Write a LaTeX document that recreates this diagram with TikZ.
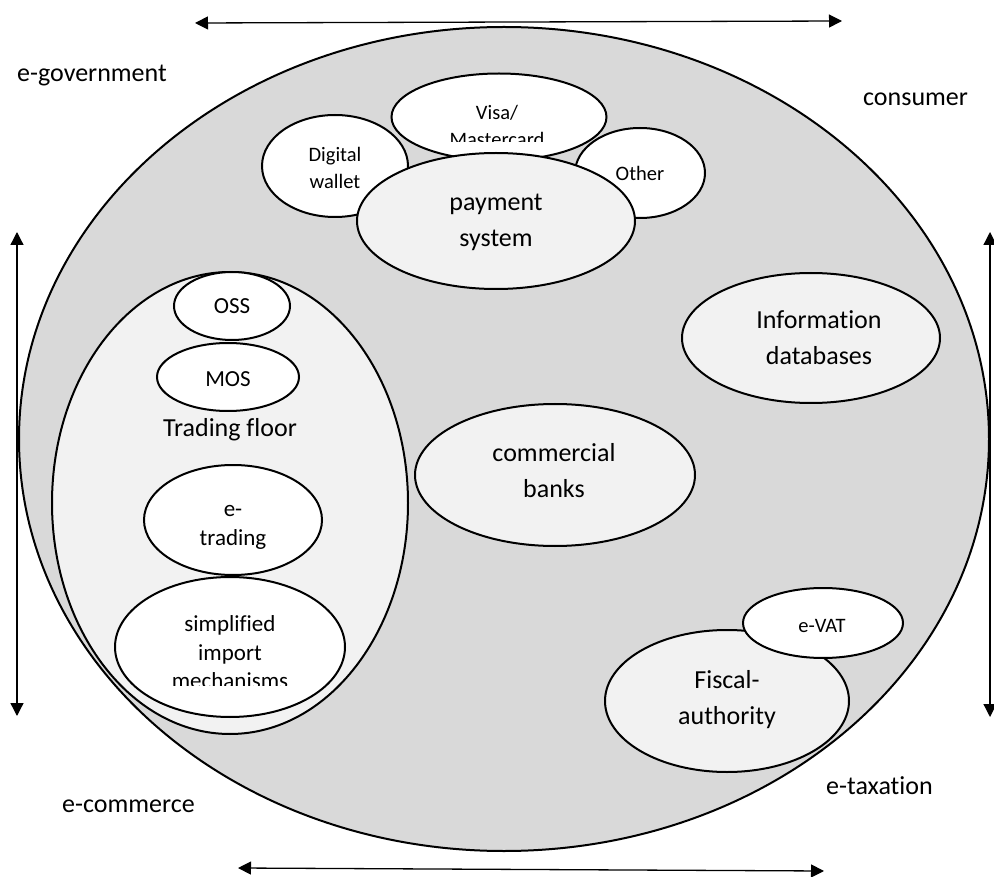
\documentclass[tikz,border=0pt]{standalone}
\usepackage{fontspec}
\setmainfont{Carlito}[Ligatures=NoCommon]
\usetikzlibrary{shapes.geometric,arrows.meta}
\definecolor{outerfill}{HTML}{D9D9D9}
\definecolor{innerfill}{HTML}{F2F2F2}
\begin{document}
\begin{tikzpicture}[x=1pt,y=-1pt,
  oval/.style={ellipse, draw=black, line width=2pt, inner sep=0pt},
  whiteoval/.style={oval, fill=white},
  greyoval/.style={oval, fill=innerfill},
  bigtext/.style={font=\fontsize{26}{36.5}\selectfont, align=center, inner sep=0pt},
  midtext/.style={font=\fontsize{23}{28.5}\selectfont, align=center, inner sep=0pt},
  smalltext/.style={font=\fontsize{20.5}{27}\selectfont, align=center, inner sep=0pt},
  twoway/.style={{Triangle[length=13pt,width=13pt]}-{Triangle[length=13pt,width=13pt]}, line width=1.3pt},
]
\useasboundingbox (0,0) rectangle (994,877);

% outer ellipse
\node[oval, fill=outerfill, minimum width=970pt, minimum height=824pt] (world) at (504,439) {};

% trading floor group
\node[greyoval, minimum width=356pt, minimum height=462pt] (floor) at (230,503) {};
\node[whiteoval, minimum width=116pt, minimum height=68pt] (oss) at (232,306) {};
\node[whiteoval, minimum width=142pt, minimum height=68pt] (mos) at (228,377) {};
\node[whiteoval, minimum width=178pt, minimum height=110pt] (etrading) at (233,520) {};
\node[whiteoval, minimum width=230pt, minimum height=140pt] (simplified) at (230,647) {};

% payment group
\node[whiteoval, minimum width=146pt, minimum height=102pt] (wallet) at (335,166) {};
\node[whiteoval, minimum width=215pt, minimum height=87pt] (visa) at (499,117) {};
\node[whiteoval, minimum width=130pt, minimum height=90pt] (other) at (640,173) {};
\node[greyoval, minimum width=278pt, minimum height=136pt] (payment) at (496,221) {};

% other institutions
\node[greyoval, minimum width=258pt, minimum height=130pt] (info) at (811,338) {};
\node[greyoval, minimum width=280pt, minimum height=142pt] (banks) at (555,475) {};
\node[greyoval, minimum width=244pt, minimum height=142pt] (fiscal) at (727,701) {};
\node[whiteoval, minimum width=160pt, minimum height=70pt] (evat) at (823,623) {};

% texts inside ellipses
\node[midtext, anchor=base] (osstext) at (232,314) {OSS};
\node[midtext, anchor=base] (mostext) at (228,386.7) {MOS};
\node[bigtext, anchor=base] (floortext) at (230,436.7) {Trading floor};
\node[midtext] (etradingtext) at (233,525.2) {\strut e-\\\strut trading};
\begin{scope}
  \clip (110,580) rectangle (350,685);
  \node[midtext] (simplifiedtext) at (230,654.5) {\strut simplified\\\strut import\\\strut mechanisms};
\end{scope}
\node[smalltext] (wallettext) at (335,169.8) {\strut Digital\\\strut wallet};
\begin{scope}
  \clip (380,60) rectangle (620,142);
  \node[smalltext] (visatext) at (497,128.1) {\strut Visa/\\\strut Mastercard};
\end{scope}
\node[smalltext, anchor=base] (othertext) at (640,180.7) {Other};
\node[bigtext] (paymenttext) at (496,221.3) {\strut payment\\\strut system};
\node[bigtext] (infotext) at (819,339.3) {\strut Information\\\strut databases};
\node[bigtext] (bankstext) at (554,472) {\strut commercial\\\strut banks};
\node[bigtext] (fiscaltext) at (727,699) {\strut Fiscal-\\\strut authority};
\node[smalltext, anchor=base] (evattext) at (822,632) {e-VAT};

% outer labels
\node[bigtext, anchor=base west] (egov) at (17,82) {e-government};
\node[bigtext, anchor=base west] (consumer) at (863,106) {consumer};
\node[bigtext, anchor=base west] (ecommerce) at (62,812) {e-commerce};
\node[bigtext, anchor=base west] (etax) at (826,794) {e-taxation};

% double-headed arrows
\coordinate (topL) at (195,23);
\coordinate (topR) at (842,21);
\coordinate (botL) at (238,868);
\coordinate (botR) at (824,871);
\coordinate (leftT) at (17,232);
\coordinate (leftB) at (17,716);
\coordinate (rightT) at (990,232);
\coordinate (rightB) at (990,717);
\draw[twoway] (topL) -- (topR);
\draw[twoway] (botL) -- (botR);
\draw[twoway] (leftT) -- (leftB);
\draw[twoway] (rightT) -- (rightB);
\end{tikzpicture}
\end{document}
